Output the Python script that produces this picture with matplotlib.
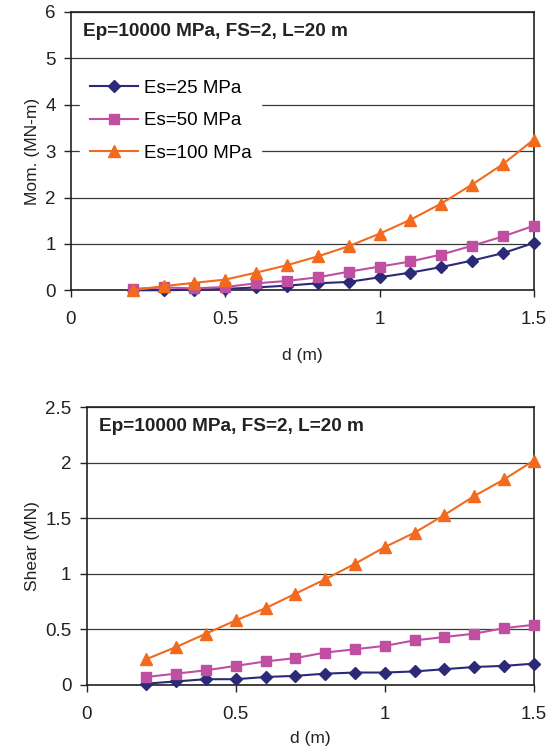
import matplotlib

matplotlib.use("Agg")
import matplotlib.pyplot as plt
from matplotlib.ticker import FuncFormatter

plt.rcParams["font.family"] = ["Liberation Sans", "DejaVu Sans"]

d = [0.2, 0.3, 0.4, 0.5, 0.6, 0.7, 0.8, 0.9, 1.0, 1.1, 1.2, 1.3, 1.4, 1.5]

mom_es25 = [0.0, 0.0, 0.01, 0.03, 0.06, 0.10, 0.15, 0.18, 0.28, 0.38, 0.50, 0.64, 0.80, 1.02]
mom_es50 = [0.03, 0.06, 0.04, 0.07, 0.15, 0.20, 0.28, 0.40, 0.51, 0.62, 0.77, 0.96, 1.16, 1.39]
mom_es100 = [0.0, 0.09, 0.16, 0.23, 0.38, 0.54, 0.73, 0.95, 1.22, 1.52, 1.87, 2.28, 2.72, 3.25]

shear_es25 = [0.01, 0.03, 0.05, 0.05, 0.07, 0.08, 0.10, 0.11, 0.11, 0.12, 0.14, 0.16, 0.17, 0.19]
shear_es50 = [0.07, 0.10, 0.13, 0.17, 0.21, 0.24, 0.29, 0.32, 0.35, 0.40, 0.43, 0.46, 0.51, 0.54]
shear_es100 = [0.23, 0.34, 0.46, 0.58, 0.69, 0.82, 0.95, 1.09, 1.24, 1.37, 1.53, 1.70, 1.85, 2.02]

labels = ["Es=25 MPa", "Es=50 MPa", "Es=100 MPa"]
colors = ["#2B2A78", "#C04FA2", "#F26A1E"]
markers = ["D", "s", "^"]
msizes = [6, 7, 8]
title = "Ep=10000 MPa, FS=2, L=20 m"

fig = plt.figure(figsize=(5.59, 7.5), dpi=100)
ax1 = fig.add_axes([0.127, 0.613, 0.828, 0.371])
ax2 = fig.add_axes([0.155, 0.087, 0.800, 0.370])


def style(ax, ymax, ystep):
    ax.set_xlim(0, 1.5)
    ax.set_ylim(0, ymax)
    ax.set_xticks([0, 0.5, 1, 1.5])
    n = int(round(ymax / ystep))
    ax.set_yticks([i * ystep for i in range(n + 1)])
    fmt = FuncFormatter(lambda v, p: f"{v:g}")
    ax.xaxis.set_major_formatter(fmt)
    ax.yaxis.set_major_formatter(fmt)
    ax.yaxis.grid(True, color="#3a3a3a", lw=0.9)
    ax.set_axisbelow(True)
    ax.tick_params(direction="out", length=5, width=1, labelsize=13.5,
                   colors="#222222", pad=6)
    ax.tick_params(axis="x", pad=10)
    for s in ax.spines.values():
        s.set_color("#222222")
        s.set_linewidth(1.2)
    ax.set_xlabel("d (m)", fontsize=12.5, color="#222222", labelpad=14)
    ax.text(0.027, 0.93, title, transform=ax.transAxes, fontsize=13.7,
            fontweight="bold", color="#222222", va="center")


for ys, lab, c, m, ms in zip([mom_es25, mom_es50, mom_es100], labels, colors,
                             markers, msizes):
    ax1.plot(d, ys, color=c, marker=m, markersize=ms, lw=1.5, label=lab,
             clip_on=False, zorder=3)
for ys, lab, c, m, ms in zip([shear_es25, shear_es50, shear_es100], labels,
                             colors, markers, msizes):
    ax2.plot(d, ys, color=c, marker=m, markersize=ms, lw=1.5, label=lab,
             clip_on=False, zorder=3)

style(ax1, 6, 1)
style(ax2, 2.5, 0.5)
ax1.set_ylabel("Mom. (MN-m)", fontsize=12.5, color="#222222")
ax2.set_ylabel("Shear (MN)", fontsize=12.5, color="#222222")
ax2.xaxis.labelpad = 6

leg = ax1.legend(loc="upper left", bbox_to_anchor=(0.0, 0.825), fontsize=13.5,
                 frameon=True, fancybox=False, handlelength=2.6,
                 labelspacing=0.82, borderpad=0.5, handletextpad=0.3)
leg.get_frame().set_facecolor("white")
leg.get_frame().set_edgecolor("white")
leg.get_frame().set_alpha(1)

fig.savefig("out.png", dpi=100)
